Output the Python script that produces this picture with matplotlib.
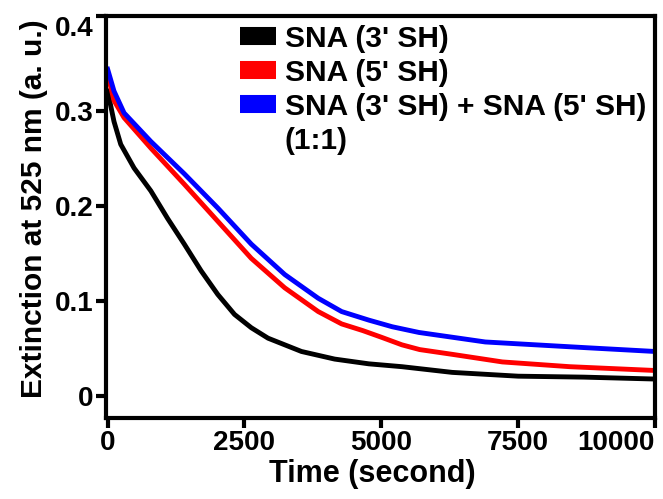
import matplotlib
matplotlib.use("Agg")
from matplotlib import pyplot as plt
from matplotlib.lines import Line2D

plt.rcParams['font.family'] = ['Liberation Sans', 'DejaVu Sans']
plt.rcParams['font.weight'] = 'bold'

t_3sh = [0, 116, 239, 483, 789, 1095, 1400, 1706, 2012, 2318, 2624, 2930,
         3541, 4147, 4771, 5376, 6294, 7500, 8700, 10000]
ext_3sh = [0.321, 0.289, 0.265, 0.240, 0.216, 0.187, 0.160, 0.132, 0.107, 0.086,
           0.072, 0.061, 0.047, 0.039, 0.034, 0.031, 0.025, 0.021, 0.020, 0.018]

t_5sh = [0, 116, 300, 789, 1400, 2012, 2624, 3235, 3847, 4275, 4660, 5000,
         5376, 5700, 6294, 7211, 8440, 10000]
ext_5sh = [0.339, 0.311, 0.293, 0.261, 0.223, 0.184, 0.145, 0.114, 0.089, 0.076,
           0.069, 0.062, 0.054, 0.049, 0.044, 0.036, 0.031, 0.027]

t_mix = [0, 116, 300, 789, 1400, 2012, 2624, 3235, 3847, 4275, 4771, 5200,
         5688, 6294, 6899, 7817, 8734, 10000]
ext_mix = [0.344, 0.321, 0.298, 0.268, 0.234, 0.198, 0.160, 0.128, 0.103, 0.089,
           0.080, 0.073, 0.067, 0.062, 0.057, 0.054, 0.051, 0.047]

labels = ["SNA (3' SH)", "SNA (5' SH)", "SNA (3' SH) + SNA (5' SH)", "(1:1)"]
colors = ["black", "red", "blue"]
x_ticks = [0, 2500, 5000, 7500, 10000]
y_ticks = [0, 0.1, 0.2, 0.3, 0.4]
y_tick_labels = ["0", "0.1", "0.2", "0.3", "0.4"]

fig = plt.figure(figsize=(6.63, 4.99), dpi=100)
ax = fig.add_axes([106 / 663, 1 - 418 / 499, 549 / 663, 402 / 499])

for t, y, c in zip([t_3sh, t_5sh, t_mix], [ext_3sh, ext_5sh, ext_mix], colors):
    ax.plot(t, y, color=c, lw=3.5, solid_joinstyle='round')

ax.set_xlim(-30, 10000)
ax.set_ylim(-0.023, 0.4)
ax.set_xticks(x_ticks)
ax.set_xticklabels([str(v) for v in x_ticks])
ax.set_yticks(y_ticks)
ax.set_yticklabels(y_tick_labels)
ax.tick_params(direction='out', length=7, width=3, labelsize=20, pad=2)
ax.get_yticklabels()[-1].set_va('top')
ax.get_xticklabels()[-1].set_ha('right')

for s in ax.spines.values():
    s.set_linewidth(3)

ax.set_xlabel("Time (second)", fontsize=22, fontweight='bold', labelpad=2)
ax.set_ylabel("Extinction at 525 nm (a. u.)", fontsize=21.5, fontweight='bold', labelpad=5)
ax.xaxis.label.set_x(0.485)
ax.yaxis.label.set_y(0.52)

handles = [Line2D([], [], color=c, lw=13, solid_capstyle='butt') for c in colors]
handles.append(Line2D([], [], color='none', lw=0))
ax.legend(handles, labels, loc='upper left', bbox_to_anchor=(0.244, 0.978),
          frameon=False, handlelength=1.2, handletextpad=0.3,
          labelspacing=0.2, borderpad=0, borderaxespad=0,
          prop={'weight': 'bold', 'size': 21.5})

fig.savefig("out.png", dpi=100)
